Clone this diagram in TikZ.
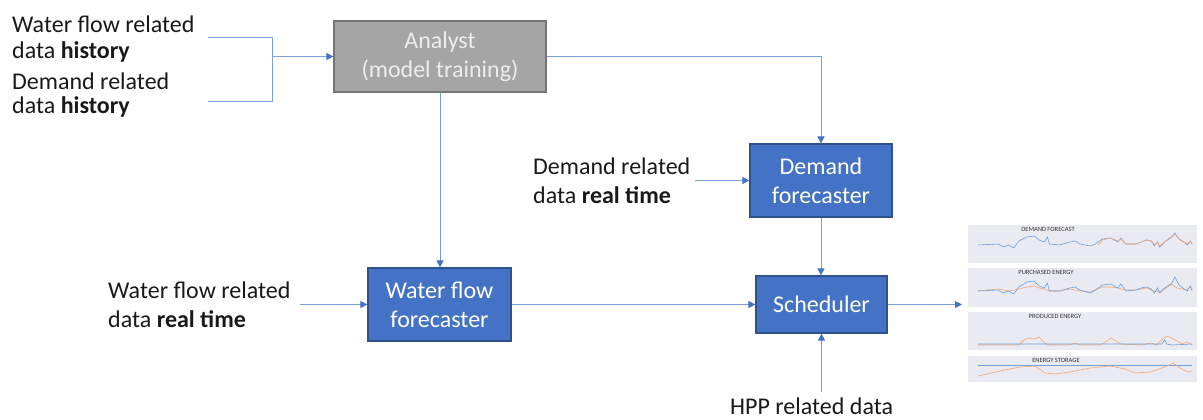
\documentclass[tikz,border=0pt]{standalone}
\usepackage{fontspec}
\setmainfont{Carlito}
\usetikzlibrary{arrows.meta}

\definecolor{boxblue}{HTML}{4472C4}
\definecolor{boxedge}{HTML}{2F528F}
\definecolor{boxgray}{HTML}{A5A5A5}
\definecolor{grayedge}{HTML}{757575}
\definecolor{linkc}{HTML}{7C9EDB}
\definecolor{tipc}{HTML}{4472C4}
\definecolor{panelbg}{HTML}{EAEAF2}
\definecolor{serblue}{HTML}{6F9FD8}
\definecolor{serorange}{HTML}{F2A774}

\tikzset{
  label font/.style={font=\fontsize{24}{29}\selectfont},
  procbox/.style={draw=boxedge, line width=1.2pt, fill=boxblue, text=white,
    align=center, label font, inner sep=0pt},
  databox/.style={align=left, anchor=west, inner sep=0pt, text=black!90},
  link/.style={draw=linkc, line width=0.9pt},
  conn/.style={link, -{Triangle[length=7pt,width=7pt,color=tipc]}},
  panel/.style={fill=panelbg},
  ptitle/.style={font=\fontsize{6.5}{7}\selectfont, text=black!80, inner sep=0pt},
  sblue/.style={draw=serblue, line width=0.6pt},
  sorange/.style={draw=serorange, line width=0.6pt},
}

\begin{document}
\begin{tikzpicture}[x=1pt, y=-1pt]
\useasboundingbox (0,0) rectangle (1203,420);

% processing blocks
\node[procbox, draw=grayedge, fill=boxgray, text=white!93!black,
      minimum width=212pt, minimum height=71pt] (analyst) at (440,56.5)
      {Analyst\\(model training)};
\node[procbox, minimum width=142pt, minimum height=73pt] (demand) at (821,180.5)
      {Demand\\forecaster};
\node[procbox, minimum width=143pt, minimum height=73pt] (water) at (439.5,304.5)
      {Water flow\\forecaster};
\node[procbox, minimum width=131pt, minimum height=57pt] (sched) at (821.5,304.5)
      {Scheduler};

% data sources
\node[databox, font=\fontsize{24}{26}\selectfont] (wfhist) at (12,39)
      {Water flow related\\data \textbf{history}};
\node[databox, font=\fontsize{24}{24.5}\selectfont] (dmhist) at (12,95)
      {Demand related\\data \textbf{history}};
\node[databox, label font] (dmreal) at (533,181)
      {Demand related\\data \textbf{real time}};
\node[databox, label font] (wfreal) at (108,305)
      {Water flow related\\data \textbf{real time}};
\node[anchor=base west, inner sep=0pt, label font, text=black!90] (hpp) at (730,414)
      {HPP related data};

% connector end points
\coordinate (h1) at (208,37);
\coordinate (h2) at (208,101);
\coordinate (join) at (272,56.5);
\coordinate (drout) at (695,180.5);
\coordinate (wrout) at (300,304.5);
\coordinate (hppout) at (821.5,392);
\coordinate (chartin) at (962,304.5);

% connectors
\draw[link] (h1) -| (join);
\draw[link] (h2) -| (join);
\draw[conn] (join) -- (analyst.west);
\draw[conn] (analyst.east) -| (demand.north);
\draw[conn] (analyst.south) -- (analyst.south |- water.north);
\draw[conn] (drout) -- (demand.west);
\draw[conn] (demand.south) -- (demand.south |- sched.north);
\draw[conn] (wrout) -- (water.west);
\draw[conn] (water.east) -- (sched.west);
\draw[conn] (hppout) -- (sched.south);
\draw[conn] (sched.east) -- (chartin);

% result charts
\fill[panel] (968,225) rectangle (1197,263);
\fill[panel] (968,268) rectangle (1197,307);
\fill[panel] (968,312) rectangle (1197,350);
\fill[panel] (968,356) rectangle (1197,382);

\begin{scope}[shift={(978,245)}, xscale=1.02]
\draw[sblue] plot coordinates {(0,0) (20,-1) (25,2) (30,0) (35,3) (40,-4) (48,-8) (55,-9) (60,-5) (65,-3) (68,-8) (70,-1) (80,0) (90,-3) (95,-4) (100,-1) (110,1) (115,-1) (122,-6) (130,-7) (137,-3) (140,-7) (145,-1) (155,-1) (160,-3) (165,-5) (170,-4) (173,1) (176,-3) (178,2) (183,-3) (190,-8) (193,-12) (197,-6) (202,-3) (205,0) (208,-4) (210,-1)};
\draw[sorange] plot coordinates {(118,0) (122,-5) (130,-7) (137,-4) (140,-6) (145,-1) (155,-1) (160,-3) (165,-5) (170,-4) (173,0) (176,-3) (178,1) (183,-3) (190,-9) (194,-10) (198,-5) (202,-3) (205,-1) (208,-4) (210,-1)};
\end{scope}

\begin{scope}[shift={(978,291)}, xscale=1.02]
\draw[sorange] plot coordinates {(0,0) (20,-2) (30,0) (40,-2) (48,-4) (55,-5) (60,-3) (65,-2) (70,0) (80,0) (90,-2) (100,0) (110,1) (115,-1) (122,-4) (130,-4) (137,-3) (145,-1) (155,-1) (165,-3) (172,0) (178,1) (183,-2) (190,-7) (195,-3) (200,-2) (205,-1) (208,-5) (210,-2)};
\draw[sblue] plot coordinates {(0,0) (20,-1) (25,2) (30,0) (35,3) (40,-4) (48,-9) (55,-10) (60,-5) (65,-3) (68,-8) (70,0) (80,0) (90,-3) (95,-4) (100,-1) (110,2) (115,-1) (122,-6) (130,-7) (137,-3) (140,-7) (145,0) (155,-1) (160,-3) (165,-4) (170,-2) (173,2) (176,-3) (178,2) (183,-3) (190,-8) (193,-14) (197,-6) (202,-2) (205,0) (208,-5) (210,0)};
\end{scope}

\begin{scope}[shift={(978,345)}, xscale=1.02]
\draw[sorange] plot coordinates {(0,0) (40,0) (45,-5) (50,-7) (55,-6) (60,-8) (65,-2) (70,0) (90,0) (95,-2) (100,0) (120,0) (125,-3) (130,-7) (135,-4) (140,-1) (160,0) (170,-2) (175,0) (180,-5) (185,-9) (190,-7) (195,-4) (200,-1) (205,-3) (210,0)};
\draw[sblue] plot coordinates {(0,-1) (180,-1) (183,-5) (185,-1) (190,0) (210,-1)};
\end{scope}

\draw[sblue] (978,365) -- (1192,365);
\draw[sorange] plot coordinates {(978,376) (1000,371) (1020,367) (1035,366) (1045,373) (1055,374) (1070,372) (1090,368) (1110,366) (1125,369) (1135,373) (1150,372) (1165,367) (1173,363) (1180,368) (1188,372) (1192,371)};

\node[ptitle] (t1) at (1048,229) {DEMAND FORECAST};
\node[ptitle] (t2) at (1046,272) {PURCHASED ENERGY};
\node[ptitle] (t3) at (1055,316) {PRODUCED ENERGY};
\node[ptitle] (t4) at (1056,360) {ENERGY STORAGE};
\end{tikzpicture}
\end{document}
